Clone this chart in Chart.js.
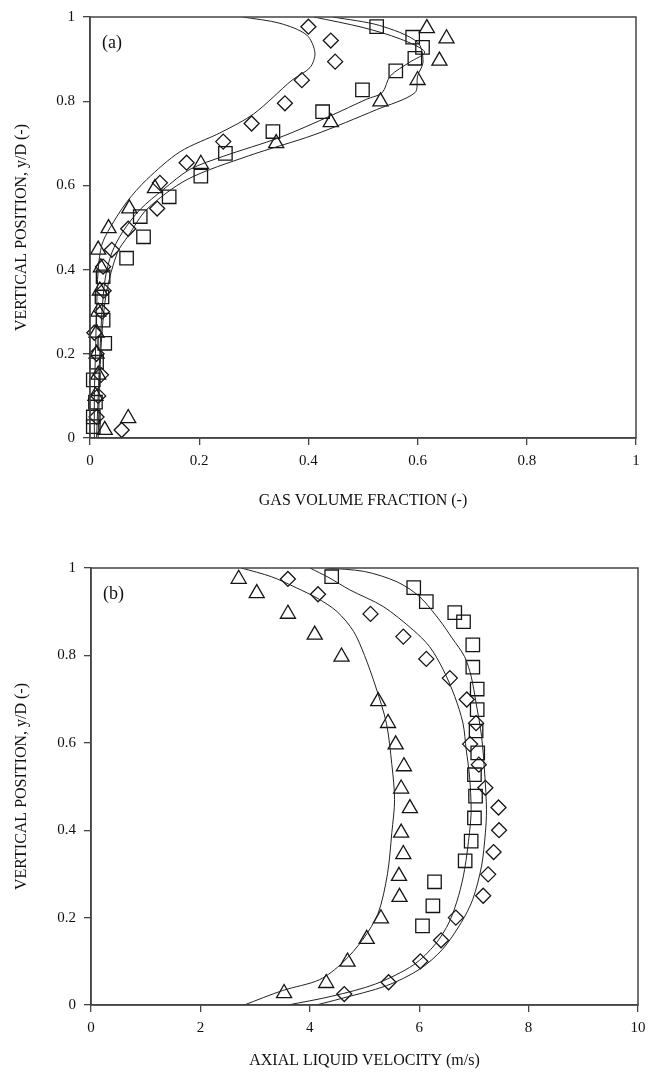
<!DOCTYPE html>
<html>
<head>
<meta charset="utf-8">
<script src="https://cdn.jsdelivr.net/npm/chart.js@4"></script>
<style>
  body { margin: 0; background: #fff; }
  .panel { position: absolute; left: 0; width: 653px; }
  #wrapA { top: 0; height: 540px; }
  #wrapB { top: 540px; height: 534px; }
</style>
</head>
<body>
<div class="panel" id="wrapA"><canvas id="chartA" width="653" height="540"></canvas></div>
<div class="panel" id="wrapB"><canvas id="chartB" width="653" height="534"></canvas></div>
<script>
// (a) gas volume fraction vs y/D  -- [x, y]
const gasDiamond = [[0.40,0.977],[0.441,0.944],[0.449,0.894],[0.388,0.85],[0.357,0.795],[0.296,0.747],[0.244,0.704],[0.177,0.654],[0.128,0.606],[0.123,0.545],[0.07,0.497],[0.04,0.447],[0.024,0.407],[0.025,0.35],[0.022,0.3],[0.008,0.25],[0.012,0.2],[0.02,0.15],[0.015,0.1],[0.012,0.05],[0.058,0.019]];
const gasSquare = [[0.525,0.977],[0.591,0.952],[0.609,0.928],[0.595,0.902],[0.56,0.872],[0.499,0.827],[0.426,0.775],[0.335,0.728],[0.248,0.676],[0.203,0.622],[0.145,0.573],[0.092,0.526],[0.098,0.478],[0.067,0.427],[0.024,0.383],[0.022,0.335],[0.024,0.28],[0.027,0.225],[0.012,0.18],[0.006,0.138],[0.01,0.085],[0.006,0.05],[0.006,0.027]];
const gasTriangle = [[0.617,0.973],[0.653,0.949],[0.64,0.896],[0.60,0.85],[0.532,0.799],[0.441,0.75],[0.341,0.70],[0.203,0.651],[0.119,0.593],[0.072,0.545],[0.034,0.498],[0.015,0.447],[0.02,0.405],[0.018,0.35],[0.015,0.3],[0.012,0.25],[0.012,0.2],[0.015,0.15],[0.01,0.1],[0.07,0.047],[0.027,0.019]];
const gasCurve1 = [[0.28,1.0],[0.348,0.985],[0.397,0.957],[0.412,0.915],[0.403,0.88],[0.37,0.85],[0.30,0.77],[0.24,0.726],[0.165,0.68],[0.104,0.614],[0.067,0.56],[0.037,0.50],[0.022,0.46],[0.015,0.4],[0.012,0.3],[0.01,0.2],[0.008,0.1],[0.008,0.0]];
const gasCurve2 = [[0.41,1.0],[0.50,0.975],[0.568,0.948],[0.613,0.917],[0.586,0.893],[0.55,0.86],[0.535,0.82],[0.507,0.805],[0.44,0.765],[0.348,0.714],[0.244,0.669],[0.183,0.638],[0.134,0.59],[0.092,0.543],[0.06,0.49],[0.04,0.44],[0.028,0.38],[0.022,0.3],[0.018,0.2],[0.015,0.1],[0.012,0.0]];
const gasCurve3 = [[0.445,1.0],[0.53,0.98],[0.60,0.94],[0.61,0.893],[0.60,0.86],[0.595,0.82],[0.525,0.78],[0.41,0.72],[0.29,0.67],[0.178,0.614],[0.104,0.543],[0.07,0.48],[0.05,0.44],[0.03,0.345],[0.022,0.25],[0.018,0.15],[0.015,0.0]];

// (b) axial liquid velocity vs y/D  -- [x, y]
const velDiamond = [[3.6,0.975],[4.15,0.94],[5.11,0.895],[5.71,0.843],[6.13,0.792],[6.56,0.748],[6.87,0.699],[7.04,0.645],[6.93,0.597],[7.09,0.55],[7.21,0.497],[7.45,0.452],[7.46,0.40],[7.36,0.35],[7.26,0.299],[7.17,0.25],[6.67,0.20],[6.40,0.148],[6.02,0.10],[5.44,0.052],[4.63,0.025]];
const velSquare = [[4.4,0.98],[5.9,0.955],[6.13,0.923],[6.65,0.898],[6.81,0.877],[6.98,0.824],[6.98,0.773],[7.06,0.723],[7.06,0.676],[7.04,0.627],[7.07,0.577],[7.01,0.527],[7.03,0.478],[7.01,0.428],[6.95,0.375],[6.84,0.33],[6.28,0.282],[6.25,0.227],[6.06,0.181]];
const velTriangle = [[2.7,0.975],[3.03,0.942],[3.60,0.895],[4.09,0.847],[4.58,0.797],[5.25,0.695],[5.43,0.645],[5.57,0.596],[5.72,0.546],[5.67,0.495],[5.83,0.45],[5.67,0.394],[5.71,0.345],[5.63,0.295],[5.64,0.247],[5.30,0.198],[5.04,0.151],[4.69,0.099],[4.30,0.05],[3.53,0.027]];
const velCurve1 = [[2.75,1.0],[3.3,0.98],[3.75,0.955],[4.15,0.93],[4.5,0.9],[4.8,0.855],[5.0,0.8],[5.2,0.73],[5.4,0.645],[5.5,0.55],[5.55,0.47],[5.5,0.395],[5.42,0.3],[5.25,0.21],[4.97,0.15],[4.6,0.097],[4.18,0.058],[3.5,0.033],[2.8,0.0]];
const velCurve2 = [[4.0,1.0],[4.35,0.978],[4.73,0.95],[5.34,0.912],[5.89,0.858],[6.19,0.82],[6.44,0.767],[6.65,0.706],[6.80,0.645],[6.86,0.584],[6.92,0.524],[6.95,0.447],[6.92,0.395],[6.83,0.31],[6.72,0.25],[6.55,0.19],[6.3,0.14],[5.9,0.092],[5.2,0.048],[4.4,0.02],[3.6,0.0]];
const velCurve3 = [[4.3,1.0],[5.0,0.992],[5.6,0.968],[6.01,0.934],[6.37,0.881],[6.6,0.84],[6.83,0.797],[6.95,0.752],[7.04,0.691],[7.14,0.615],[7.2,0.524],[7.23,0.447],[7.21,0.394],[7.14,0.318],[6.98,0.242],[6.77,0.189],[6.43,0.128],[6.01,0.082],[5.4,0.044],[4.55,0.014],[4.12,0.0]];

const FONT = '"Liberation Serif", "DejaVu Serif", serif';
Chart.defaults.font.family = FONT;
Chart.defaults.color = '#111';

function pts(arr) {
    return arr.map(p => ({x: p[0], y: p[1]}));
}

function markerSet(data, style, radius) {
    return {
        data: pts(data),
        pointStyle: style,
        pointRadius: radius,
        pointHoverRadius: radius,
        pointBorderColor: '#151515',
        pointBackgroundColor: 'rgba(255,255,255,0)',
        pointBorderWidth: 1.3,
        showLine: false,
        clip: false
    };
}

function curveSet(data) {
    return {
        data: pts(data),
        showLine: true,
        borderColor: '#222',
        borderWidth: 1,
        pointRadius: 0,
        tension: 0.3,
        fill: false
    };
}

// box around the plot area and the panel letter
const framePlugin = {
    id: 'frame',
    afterDraw(chart, args, opts) {
        const {ctx, chartArea: a} = chart;
        ctx.save();
        ctx.strokeStyle = '#444';
        ctx.lineWidth = 1.5;
        ctx.strokeRect(a.left, a.top, a.right - a.left, a.bottom - a.top);
        ctx.font = '18px ' + FONT;
        ctx.fillStyle = '#111';
        ctx.textBaseline = 'middle';
        ctx.fillText(opts.label, a.left + 12, a.top + 26);
        ctx.restore();
    }
};

// 1 instead of 1.0, 0 instead of 0.0
const plainNum = v => String(Math.round(v * 10) / 10);

function axes(xMax, xStep, xTitle, yWidth, xHeight, xTitlePad) {
    const grid = {drawOnChartArea: false, drawTicks: true, tickLength: 7, color: '#444', lineWidth: 1.3};
    const border = {display: true, color: '#444', width: 1.5};
    return {
        x: {
            type: 'linear', min: 0, max: xMax,
            ticks: {stepSize: xStep, font: {size: 15}, padding: 7, maxRotation: 0, callback: plainNum},
            grid: grid, border: border,
            title: {display: true, text: xTitle, font: {size: 16}, padding: {top: 0, bottom: xTitlePad}},
            afterFit: s => { s.height = xHeight; }
        },
        y: {
            type: 'linear', min: 0, max: 1,
            ticks: {stepSize: 0.2, font: {size: 15}, padding: 8, callback: plainNum},
            grid: grid, border: border,
            title: {display: true, text: 'VERTICAL POSITION, y/D (-)', font: {size: 16}, padding: {top: 12, bottom: 0}},
            afterFit: s => { s.width = yWidth; }
        }
    };
}

new Chart('chartA', {
    type: 'scatter',
    data: {
        datasets: [
            curveSet(gasCurve1), curveSet(gasCurve2), curveSet(gasCurve3),
            markerSet(gasDiamond, 'rectRot', 7.5),
            markerSet(gasSquare, 'rect', 9.5),
            markerSet(gasTriangle, 'triangle', 8.7)
        ]
    },
    options: {
        responsive: false,
        animation: false,
        layout: {padding: {top: 17, right: 17, left: 0, bottom: 0}},
        plugins: {legend: {display: false}, tooltip: {enabled: false}, frame: {label: '(a)'}},
        scales: axes(1, 0.2, 'GAS VOLUME FRACTION (-)', 90, 102, 29.4)
    },
    plugins: [framePlugin]
});

new Chart('chartB', {
    type: 'scatter',
    data: {
        datasets: [
            curveSet(velCurve1), curveSet(velCurve2), curveSet(velCurve3),
            markerSet(velDiamond, 'rectRot', 7.5),
            markerSet(velSquare, 'rect', 9.5),
            markerSet(velTriangle, 'triangle', 8.7)
        ]
    },
    options: {
        responsive: false,
        animation: false,
        layout: {padding: {top: 28, right: 15, left: 0, bottom: 0}},
        plugins: {legend: {display: false}, tooltip: {enabled: false}, frame: {label: '(b)'}},
        scales: axes(10, 2, 'AXIAL LIQUID VELOCITY (m/s)', 91, 69, 3.4)
    },
    plugins: [framePlugin]
});
</script>
</body>
</html>
